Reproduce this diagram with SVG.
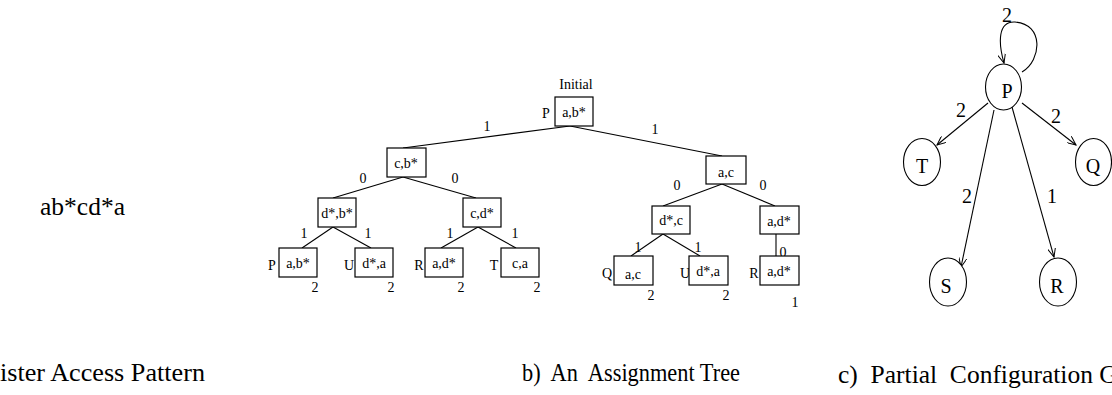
<svg xmlns="http://www.w3.org/2000/svg" width="1112" height="395" viewBox="0 0 1112 395">
  <defs>
    <marker id="arrow" viewBox="0 0 10 8" refX="9" refY="4" markerWidth="10" markerHeight="8" markerUnits="userSpaceOnUse" orient="auto">
      <path d="M0,0 L9,4 L0,8" fill="none" stroke="#000" stroke-width="1"/>
    </marker>
  </defs>
  <style>
    .box { fill: #fff; stroke: #000; stroke-width: 1.2; }
    .edge { fill: none; stroke: #000; stroke-width: 1.1; }
    .node { fill: #fff; stroke: #000; stroke-width: 1.1; }
    .t { font-family: "Liberation Serif", serif; font-size: 14px; text-anchor: middle; fill: #000; opacity: 0.999; }
    .g { font-family: "Liberation Serif", serif; font-size: 20px; text-anchor: middle; fill: #000; opacity: 0.999; }
    .big { font-family: "Liberation Serif", serif; font-size: 25.5px; fill: #000; white-space: pre; }
  </style>
  <rect width="1112" height="395" fill="#fff"/>

  <!-- a) pattern -->
  <text class="big" x="40" y="215">ab*cd*a</text>
  <text class="big" x="0" y="381" textLength="205" lengthAdjust="spacingAndGlyphs">ister Access Pattern</text>

  <!-- b) tree connectors -->
  <g id="tree-edges">
    <line class="edge" x1="570" y1="126" x2="403" y2="148"/>
    <line class="edge" x1="570" y1="126" x2="722" y2="156"/>
    <line class="edge" x1="403" y1="177" x2="333" y2="198"/>
    <line class="edge" x1="403" y1="177" x2="476" y2="198"/>
    <line class="edge" x1="333" y1="227" x2="302" y2="248"/>
    <line class="edge" x1="333" y1="227" x2="371" y2="248"/>
    <line class="edge" x1="478" y1="227" x2="441" y2="248"/>
    <line class="edge" x1="478" y1="227" x2="516" y2="248"/>
    <line class="edge" x1="722" y1="184" x2="663" y2="206"/>
    <line class="edge" x1="722" y1="184" x2="775" y2="206"/>
    <line class="edge" x1="663" y1="234" x2="631" y2="256"/>
    <line class="edge" x1="663" y1="234" x2="700" y2="256"/>
    <line class="edge" x1="776" y1="234" x2="776" y2="256"/>
    <text class="t" x="487" y="131">1</text>
    <text class="t" x="655" y="134">1</text>
    <text class="t" x="363" y="183">0</text>
    <text class="t" x="455" y="183">0</text>
    <text class="t" x="304" y="238">1</text>
    <text class="t" x="368" y="238">1</text>
    <text class="t" x="450" y="238">1</text>
    <text class="t" x="515" y="238">1</text>
    <text class="t" x="677" y="190">0</text>
    <text class="t" x="763" y="190">0</text>
    <text class="t" x="638" y="252">1</text>
    <text class="t" x="698" y="252">1</text>
    <text class="t" x="783" y="257">0</text>
  </g>

  <!-- b) tree nodes -->
  <g id="root">
    <text class="t" x="576" y="89">Initial</text>
    <text class="t" x="546" y="118">P</text>
    <rect class="box" x="555" y="97" width="38" height="29"/>
    <text class="t" x="574" y="117">a,b*</text>
  </g>
  <g id="n-cb">
    <rect class="box" x="387" y="148" width="39" height="29"/>
    <text class="t" x="406" y="168">c,b*</text>
  </g>
  <g id="n-db">
    <rect class="box" x="318" y="198" width="38" height="29"/>
    <text class="t" x="337" y="218">d*,b*</text>
  </g>
  <g id="n-cd">
    <rect class="box" x="463" y="198" width="38" height="29"/>
    <text class="t" x="482" y="218">c,d*</text>
  </g>
  <g id="leaf-p">
    <text class="t" x="272" y="270">P</text>
    <rect class="box" x="279" y="248" width="38" height="29"/>
    <text class="t" x="298" y="268">a,b*</text>
    <text class="t" x="315" y="292">2</text>
  </g>
  <g id="leaf-u1">
    <text class="t" x="349" y="270">U</text>
    <rect class="box" x="355" y="248" width="38" height="29"/>
    <text class="t" x="374" y="268">d*,a</text>
    <text class="t" x="391" y="292">2</text>
  </g>
  <g id="leaf-r1">
    <text class="t" x="419" y="270">R</text>
    <rect class="box" x="425" y="248" width="38" height="29"/>
    <text class="t" x="444" y="268">a,d*</text>
    <text class="t" x="461" y="292">2</text>
  </g>
  <g id="leaf-t">
    <text class="t" x="494" y="270">T</text>
    <rect class="box" x="501" y="248" width="38" height="29"/>
    <text class="t" x="520" y="268">c,a</text>
    <text class="t" x="537" y="292">2</text>
  </g>
  <g id="n-ac">
    <rect class="box" x="706" y="156" width="40" height="28"/>
    <text class="t" x="726" y="177">a,c</text>
  </g>
  <g id="n-dc">
    <rect class="box" x="652" y="206" width="38" height="28"/>
    <text class="t" x="671" y="225">d*,c</text>
  </g>
  <g id="n-ad">
    <rect class="box" x="760" y="206" width="39" height="28"/>
    <text class="t" x="779" y="226">a,d*</text>
  </g>
  <g id="leaf-q">
    <text class="t" x="607" y="278">Q</text>
    <rect class="box" x="614" y="256" width="39" height="29"/>
    <text class="t" x="633" y="279">a,c</text>
    <text class="t" x="651" y="300">2</text>
  </g>
  <g id="leaf-u2">
    <text class="t" x="685" y="278">U</text>
    <rect class="box" x="689" y="256" width="39" height="29"/>
    <text class="t" x="708" y="276">d*,a</text>
    <text class="t" x="726" y="300">2</text>
  </g>
  <g id="leaf-r2">
    <text class="t" x="754" y="278">R</text>
    <rect class="box" x="760" y="256" width="39" height="29"/>
    <text class="t" x="779" y="276">a,d*</text>
    <text class="t" x="795" y="307">1</text>
  </g>
  <text class="big" x="522" y="381" textLength="218" lengthAdjust="spacingAndGlyphs">b)  An  Assignment Tree</text>

  <!-- c) configuration graph connectors -->
  <g id="graph-edges">
    <path class="edge" d="M1022,72 C1042,60 1044,24 1015,22 C998,21 998,42 1004,63" marker-end="url(#arrow)"/>
    <line class="edge" x1="988" y1="103" x2="937" y2="145" marker-end="url(#arrow)"/>
    <line class="edge" x1="1022" y1="103" x2="1076" y2="145" marker-end="url(#arrow)"/>
    <line class="edge" x1="994" y1="110" x2="961" y2="267" marker-end="url(#arrow)"/>
    <line class="edge" x1="1012" y1="107" x2="1054" y2="257" marker-end="url(#arrow)"/>
    <text class="g" x="1007" y="22">2</text>
    <text class="g" x="961" y="117">2</text>
    <text class="g" x="1056" y="123">2</text>
    <text class="g" x="967" y="203">2</text>
    <text class="g" x="1052" y="203">1</text>
  </g>

  <!-- c) configuration graph nodes -->
  <g id="g-p">
    <ellipse class="node" cx="1003.5" cy="87" rx="18" ry="23"/>
    <text class="g" x="1007" y="98">P</text>
  </g>
  <g id="g-t">
    <ellipse class="node" cx="922" cy="162" rx="18.5" ry="23.5"/>
    <text class="g" x="922" y="173">T</text>
  </g>
  <g id="g-q">
    <ellipse class="node" cx="1093.5" cy="162" rx="18" ry="23.5"/>
    <text class="g" x="1093" y="173">Q</text>
  </g>
  <g id="g-s">
    <ellipse class="node" cx="948" cy="282" rx="18.5" ry="24"/>
    <text class="g" x="946" y="293">S</text>
  </g>
  <g id="g-r">
    <ellipse class="node" cx="1058" cy="282" rx="18.5" ry="24"/>
    <text class="g" x="1057" y="293">R</text>
  </g>
  <text class="big" x="838" y="383">c)  Partial  Configuration G</text>
</svg>
